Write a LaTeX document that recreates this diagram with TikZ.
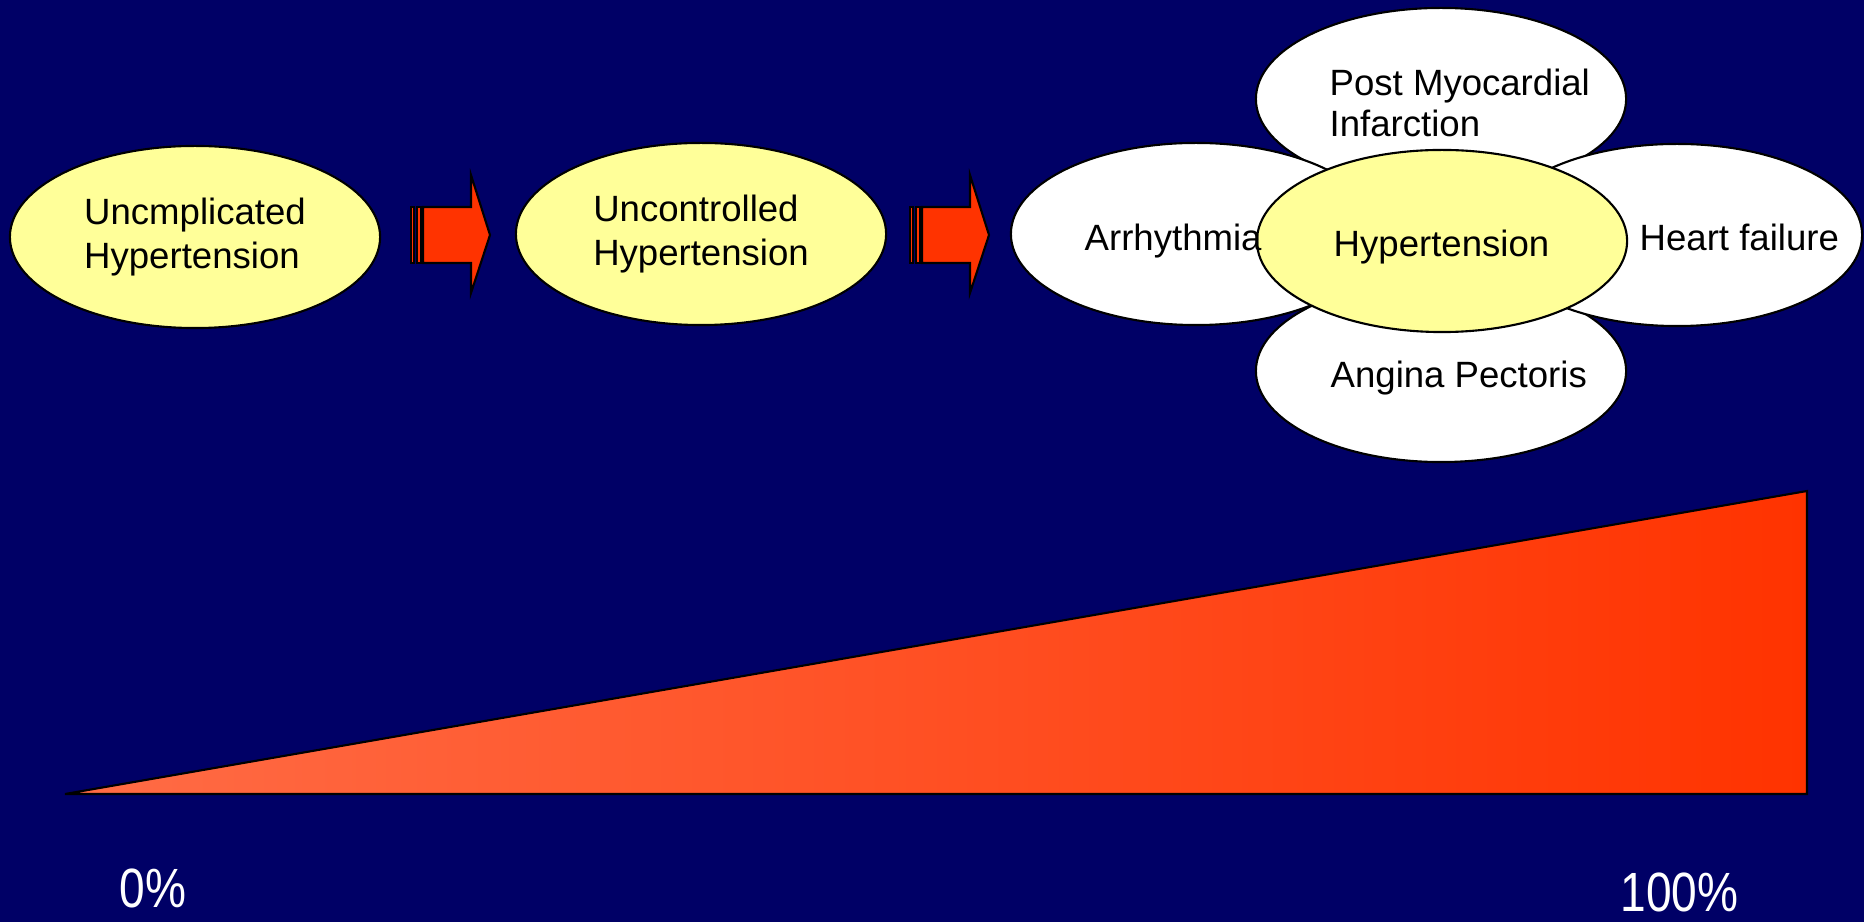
\documentclass[tikz,border=0pt]{standalone}
\usepackage{fontspec}
\setmainfont{Liberation Sans}
\usepackage{tikz}
\usetikzlibrary{shapes.geometric}
\definecolor{slideblue}{RGB}{0,0,102}
\definecolor{paleyellow}{RGB}{255,255,153}
\definecolor{arroworange}{RGB}{255,51,0}
\definecolor{rampstart}{RGB}{255,108,70}

\tikzset{
  stage/.style={ellipse, draw=black, line width=0.6pt, fill=paleyellow,
    minimum width=3.7cm, minimum height=1.82cm, inner sep=0pt,
    align=left, font=\fontsize{10.4}{12.4}\selectfont},
  petal/.style={stage, fill=white},
  txt/.style={inner sep=0pt, align=left, font=\fontsize{10.4}{11.6}\selectfont},
  pct/.style={inner sep=0pt, text=white, font=\fontsize{13.1}{15}\selectfont},
  arrowbody/.style={fill=arroworange, draw=black, line width=0.6pt},
  stagearrow/.pic={
    \draw[arrowbody] (0,-28) rectangle (3,28);
    \draw[arrowbody] (6,-28) rectangle (10,28);
    \draw[arrowbody] (12,-28) -- (60,-28) -- (60,-60) -- (79,0) -- (60,58)
      -- (60,28) -- (12,28) -- cycle;
  }
}

\begin{document}
\begin{tikzpicture}[x=0.01cm, y=-0.01cm]
\useasboundingbox (0,0) rectangle (1864,922);
\fill[slideblue] (0,0) rectangle (1864,922);

% stages
\node[stage] (uncomplicated) at (195,237) {Uncmplicated\\Hypertension};
\pic at (411,235) {stagearrow};
\node[stage] (uncontrolled) at (701,234) {Uncontrolled\\Hypertension};
\pic at (910,235) {stagearrow};

% complications round the centre
\node[petal] (postmi) at (1441,99) {};
\node[petal] (angina) at (1441,371) {};
\node[petal] (arrhythmia) at (1196,234) {};
\node[petal] (heartfailure) at (1677,235) {};
\node[stage] (hypertension) at (1442,241) {};

\node[txt, anchor=west] (postmitext) at (1329,103) {Post Myocardial\\Infarction};
\node[txt, anchor=base west] (arrhythmiatext) at (1084,251) {Arrhythmia};
\node[txt, anchor=base west] (hypertensiontext) at (1333,257) {Hypertension};
\node[txt, anchor=base west] (heartfailuretext) at (1639,251) {Heart failure};
\node[txt, anchor=base west] (anginatext) at (1330,388) {Angina Pectoris};

% risk ramp
\draw[black, line width=0.6pt, left color=rampstart, right color=arroworange]
  (65,794) -- (1807,794) -- (1807,491) -- cycle;
\node[pct, anchor=base west] (zero) at (119,907) {\scalebox{1}[1.2]{0\%}};
\node[pct, anchor=base west] (hundred) at (1620,911) {\scalebox{1}[1.2]{100\%}};
\end{tikzpicture}
\end{document}
